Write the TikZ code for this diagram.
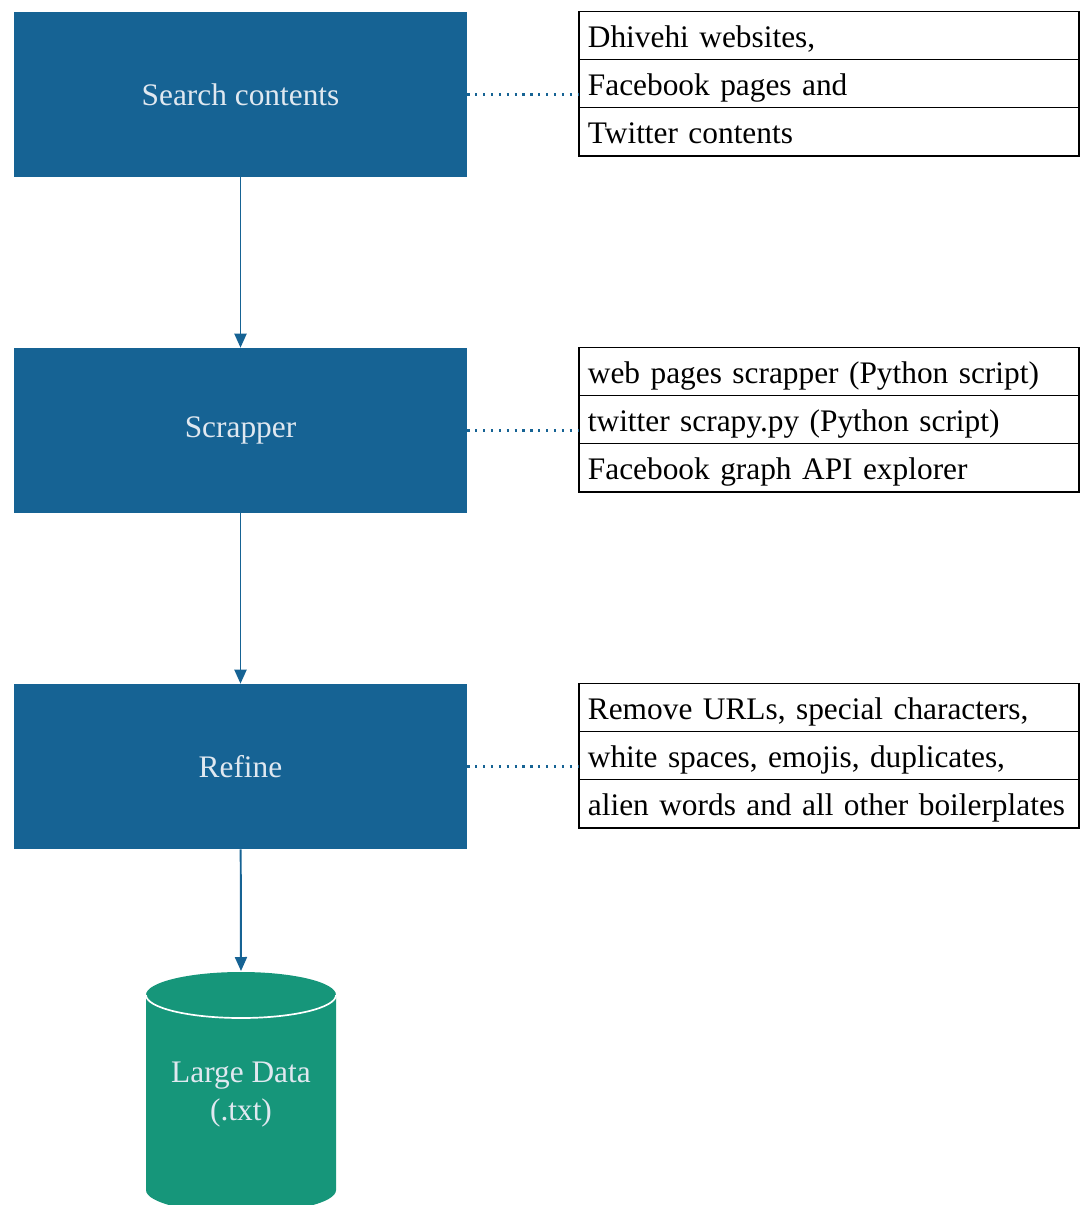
\documentclass[tikz,border=0pt]{standalone}
\usepackage{fontspec}
\setmainfont{Liberation Serif}
\usetikzlibrary{shapes}
\usetikzlibrary{calc}
\usetikzlibrary{arrows.meta}

\definecolor{stepblue}{RGB}{22,99,148}
\definecolor{steptext}{RGB}{224,232,240}
\definecolor{datagreen}{RGB}{22,150,122}

\newcommand{\rowstrut}{\rule[-5.5pt]{0pt}{28.1pt}}

\begin{document}
\begin{tikzpicture}[x=0.025cm, y=-0.025cm, font=\fontsize{22.3}{27}\selectfont]
    \def\stepdist{336}
    \def\tablegap{111}
    \tikzstyle{stepbox}=[rectangle, fill=stepblue, text=steptext, minimum width=11.325cm, minimum height=4.125cm]
    \tikzstyle{triple}=[rectangle split, rectangle split parts=3, draw, line width=1pt, align=left, text width=343pt, inner xsep=6.3pt, inner ysep=2.5pt, anchor=north west]
    \tikzstyle{arrow}=[-{Triangle[length=0.35cm, width=0.3cm]}, stepblue, line width=1.4pt]
    \tikzstyle{link}=[stepblue, line width=1.6pt, dash pattern=on 1.6pt off 4pt]

    \useasboundingbox (0,0) rectangle (1088,1205);
    \clip (0,0) rectangle (1088,1205);

    % nodes
    \node (search) [stepbox] at (240.5,94.5) {Search contents};
    \path (search.center)+(0,\stepdist) node (scrap) [stepbox] {Scrapper};
    \path (scrap.center)+(0,\stepdist) node (refine) [stepbox] {Refine};

    \path (search.north east)+(\tablegap,-1) node (sources) [triple] {\rowstrut Dhivehi websites, \nodepart{second}\rowstrut Facebook pages and \nodepart{third}\rowstrut Twitter contents};
    \path (scrap.north east)+(\tablegap,-1) node (tools) [triple] {\rowstrut web pages scrapper (Python script) \nodepart{second}\rowstrut twitter scrapy.py (Python script) \nodepart{third}\rowstrut Facebook graph API explorer};
    \path (refine.north east)+(\tablegap,-1) node (cleaning) [triple] {\rowstrut Remove URLs, special characters, \nodepart{second}\rowstrut white spaces, emojis, duplicates, \nodepart{third}\rowstrut alien words and all other boilerplates};

    % cylinder
    \fill[datagreen] (146,995) -- (146,1190) arc[start angle=180, end angle=360, x radius=2.375cm, y radius=0.575cm] -- (336,995) arc[start angle=0, end angle=180, x radius=2.375cm, y radius=0.575cm] -- cycle;
    \draw[white, line width=1.2pt] (146,995) arc[start angle=180, end angle=360, x radius=2.375cm, y radius=0.575cm];
    \node (data) at (241,1095) [text=steptext, align=center] {Large Data\\(.txt)};
    \coordinate (datatop) at (241,971);

    % bottom edges of the tables
    \foreach \t in {sources, tools, cleaning}
        \draw[line width=2pt] (\t.south west) -- (\t.south east);

    % arrows
    \draw[arrow] (search) -- (scrap);
    \draw[arrow] (scrap) -- (refine);
    \draw[arrow] (refine) -- (datatop);

    % dotted links
    \draw[link] (search.east) -- (search.east -| sources.west);
    \draw[link] (scrap.east) -- (scrap.east -| tools.west);
    \draw[link] (refine.east) -- (refine.east -| cleaning.west);
\end{tikzpicture}
\end{document}
